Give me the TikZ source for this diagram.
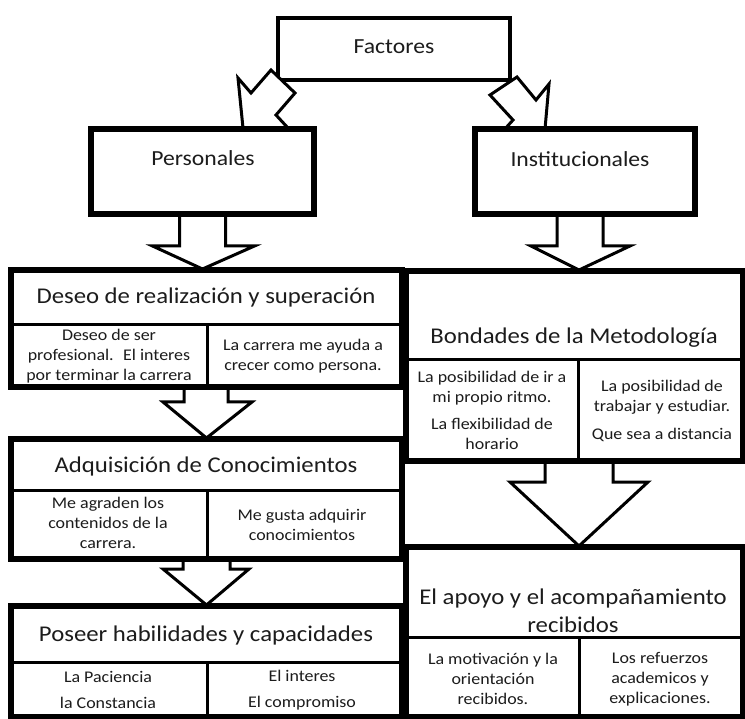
\documentclass[tikz,border=0pt]{standalone}
\usepackage{fontspec}
\setmainfont{Carlito}[FakeStretch=1.1]
\usetikzlibrary{calc}
\definecolor{ink}{RGB}{28,28,28}
\begin{document}
\begin{tikzpicture}[x=1pt,y=-1pt,
  box/.style={draw=black, line width=4pt, fill=white, inner sep=0pt, rectangle},
  sepline/.style={draw=black, line width=3pt},
  blk/.style={draw=black, line width=3pt, fill=white, line join=miter},
  hd/.style={text=ink, inner sep=0pt, font=\fontsize{21.5}{26}\selectfont},
  big/.style={text=ink, inner sep=0pt, align=center, font=\fontsize{22.5}{28}\selectfont},
  sm/.style={text=ink, inner sep=0pt, align=center, font=\fontsize{16.3}{20}\selectfont},
  smw/.style={text=ink, inner sep=0pt, align=center, font=\fontsize{16.3}{26}\selectfont}]
\useasboundingbox (0,0) rectangle (745,719);

% ---------- boxes (outer frames) ----------
\node[box, minimum width=232pt, minimum height=62pt] (fac) at (394,49) {};
\node[box, minimum width=221pt, minimum height=83pt] (pers) at (202.5,171.5) {};
\node[box, minimum width=218pt, minimum height=83pt] (inst) at (585,171.5) {};

% ---------- diagonal block arrows ----------
\draw[blk] (238,78) -- (251,93) -- (271,70) -- (295,93) -- (276,115) -- (288,128) -- (243,128) -- cycle;
\draw[blk] (490,95) -- (517,77) -- (536,100) -- (549,84) -- (545,129) -- (504,130) -- (513,120) -- cycle;

\node[box, minimum width=389pt, minimum height=115pt] (des) at (206.5,328.5) {};
\node[box, minimum width=389pt, minimum height=118pt] (adq) at (206.5,499) {};
\node[box, minimum width=389pt, minimum height=109pt] (pos) at (206.5,661.5) {};
\node[box, minimum width=335pt, minimum height=188pt] (bon) at (574.5,366) {};
\node[box, minimum width=335pt, minimum height=168pt] (apo) at (574.5,632) {};

% ---------- down block arrows between stacked boxes ----------
\draw[blk] ($(pers.south)+(-23,0)$) -- ++(0,31) -- ++(-27,0) -- (pers.south |- des.north) -- ($(pers.south)+(52,31)$) -- ++(-29,0) -- ++(0,-31) -- cycle;
\draw[blk] ($(inst.south)+(-28,0)$) -- ++(0,31) -- ++(-26,0) -- ($(inst.south |- bon.north)+(-6,0)$) -- ($(inst.south)+(45,31)$) -- ++(-27,0) -- ++(0,-31) -- cycle;
\draw[blk] ($(des.south)+(-22.5,0)$) -- ++(0,14) -- ++(-21,0) -- (des.south |- adq.north) -- ($(des.south)+(45.5,14)$) -- ++(-24,0) -- ++(0,-14) -- cycle;
\draw[blk] ($(adq.south)+(-23.5,0)$) -- ++(0,9) -- ++(-20,0) -- (adq.south |- pos.north) -- ($(adq.south)+(42.5,9)$) -- ++(-19,0) -- ++(0,-9) -- cycle;
\draw[blk] ($(bon.south)+(-29.5,0)$) -- ++(0,20) -- ++(-35,0) -- ($(bon.south |- apo.north)+(4.5,0)$) -- ($(bon.south)+(73.5,20)$) -- ++(-35,0) -- ++(0,-20) -- cycle;

% redraw frames on top of arrow ends
\draw[line width=4pt] (des.north west) rectangle (des.south east);
\draw[line width=4pt] (adq.north west) rectangle (adq.south east);
\draw[line width=4pt] (pos.north west) rectangle (pos.south east);
\draw[line width=4pt] (bon.north west) rectangle (bon.south east);
\draw[line width=4pt] (apo.north west) rectangle (apo.south east);
\draw[line width=4pt] (pers.north west) rectangle (pers.south east);
\draw[line width=4pt] (inst.north west) rectangle (inst.south east);

% ---------- inner separators ----------
\draw[sepline] (des.west |- 0,325) -- (des.east |- 0,325);
\draw[sepline] (207,325) -- (207,386);
\draw[sepline] (adq.west |- 0,490) -- (adq.east |- 0,490);
\draw[sepline] (207,490) -- (207,558);
\draw[sepline] (pos.west |- 0,662) -- (pos.east |- 0,662);
\draw[sepline] (207,662) -- (207,716);
\draw[sepline] (bon.west |- 0,360) -- (bon.east |- 0,360);
\draw[sepline] (578,360) -- (578,460);
\draw[sepline] (apo.west |- 0,637) -- (apo.east |- 0,637);
\draw[sepline] (579,637) -- (579,716);

% ---------- texts ----------
\node[hd] (fact) at (394,47) {Factores};
\node[hd] (perst) at (203,158) {Personales};
\node[hd] (instt) at (580,159) {Institucionales};

\node[big] (dest) at (206,298) {Deseo de realización y superación};
\node[sm] (desl) at (109,356) {Deseo de ser\\profesional.~ El interes\\por terminar la carrera};
\node[sm] (desr) at (303,356) {La carrera me ayuda a\\crecer como persona.};

\node[big] (adqt) at (206,467) {Adquisición de Conocimientos};
\node[sm] (adql) at (108,523) {Me agraden los\\contenidos de la\\carrera.};
\node[sm] (adqr) at (302,525) {Me gusta adquirir\\conocimientos};

\node[big] (post) at (206,636) {Poseer habilidades y capacidades};
\node[smw] (posl) at (108,690) {La Paciencia\\la Constancia};
\node[smw] (posr) at (302,690) {El interes\\El compromiso};

\node[big] (bont) at (574,338) {Bondades de la Metodología};
\node[sm] (bonl1) at (492,388) {La posibilidad de ir a\\mi propio ritmo.};
\node[sm] (bonl2) at (492,434) {La flexibilidad de\\horario};
\node[sm] (bonr1) at (662,397) {La posibilidad de\\trabajar y estudiar.};
\node[sm] (bonr2) at (662,435) {Que sea a distancia};

\node[big] (apot) at (573,611) {El apoyo y el acompañamiento\\recibidos};
\node[sm] (apol) at (493,679) {La motivación y la\\orientación\\recibidos.};
\node[sm] (apor) at (660,679) {Los refuerzos\\academicos y\\explicaciones.};
\end{tikzpicture}
\end{document}
